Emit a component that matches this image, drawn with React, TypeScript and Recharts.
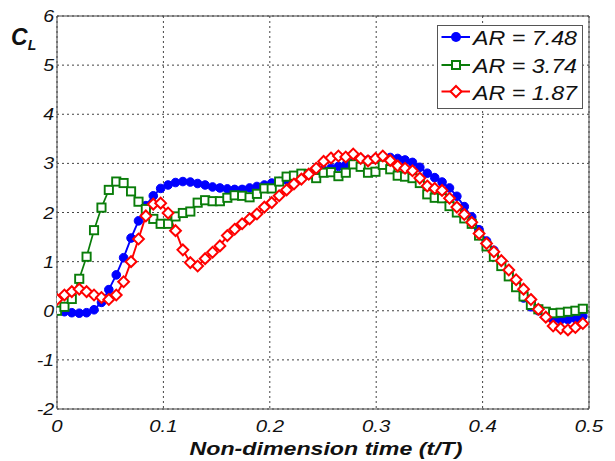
import React from 'react';
import { LineChart, Line, XAxis, YAxis, CartesianGrid, ReferenceLine, Legend } from 'recharts';

const time = [0, 0.007, 0.0139, 0.0209, 0.0278, 0.0348, 0.0418, 0.0487, 0.0557, 0.0626, 0.0696, 0.0766, 0.0835, 0.0905, 0.0974, 0.1044, 0.1114, 0.1183, 0.1253, 0.1322, 0.1392, 0.1462, 0.1531, 0.1601, 0.167, 0.174, 0.181, 0.1879, 0.1949, 0.2018, 0.2088, 0.2158, 0.2227, 0.2297, 0.2366, 0.2436, 0.2506, 0.2575, 0.2645, 0.2714, 0.2784, 0.2854, 0.2923, 0.2993, 0.3062, 0.3132, 0.3202, 0.3271, 0.3341, 0.341, 0.348, 0.355, 0.3619, 0.3689, 0.3758, 0.3828, 0.3898, 0.3967, 0.4037, 0.4106, 0.4176, 0.4246, 0.4315, 0.4385, 0.4454, 0.4524, 0.4594, 0.4663, 0.4733, 0.4802, 0.4872, 0.4942];

const ar748 = [0.0, -0.02, -0.04, -0.05, -0.04, 0.02, 0.17, 0.43, 0.73, 1.08, 1.48, 1.83, 2.14, 2.34, 2.49, 2.56, 2.61, 2.63, 2.62, 2.59, 2.56, 2.52, 2.5, 2.48, 2.47, 2.47, 2.5, 2.53, 2.56, 2.6, 2.63, 2.66, 2.71, 2.75, 2.79, 2.83, 2.86, 2.9, 2.94, 2.97, 3.01, 3.04, 3.07, 3.1, 3.11, 3.12, 3.1, 3.07, 3.02, 2.92, 2.8, 2.71, 2.62, 2.5, 2.33, 2.12, 1.91, 1.65, 1.42, 1.23, 1.01, 0.75, 0.5, 0.26, 0.08, 0.0, -0.1, -0.17, -0.19, -0.18, -0.16, -0.11];

const ar374 = [0.0, 0.08, 0.24, 0.65, 1.1, 1.64, 2.1, 2.46, 2.63, 2.6, 2.43, 2.22, 2.07, 1.87, 1.77, 1.77, 1.92, 1.99, 2.02, 2.2, 2.25, 2.23, 2.23, 2.3, 2.35, 2.34, 2.31, 2.38, 2.49, 2.49, 2.63, 2.73, 2.75, 2.79, 2.78, 2.7, 2.81, 2.82, 2.74, 2.81, 2.98, 2.93, 2.81, 2.83, 2.97, 2.88, 2.75, 2.73, 2.7, 2.6, 2.37, 2.3, 2.29, 2.13, 2.0, 1.88, 1.77, 1.53, 1.31, 1.1, 0.91, 0.7, 0.48, 0.29, 0.12, 0.03, -0.02, -0.05, -0.04, -0.02, 0.0, 0.04];

const ar187 = [0.23, 0.32, 0.39, 0.44, 0.39, 0.32, 0.27, 0.23, 0.32, 0.59, 1.0, 1.46, 1.93, 2.17, 2.19, 1.99, 1.63, 1.24, 0.98, 0.91, 1.06, 1.19, 1.32, 1.53, 1.66, 1.77, 1.87, 1.97, 2.11, 2.2, 2.34, 2.46, 2.58, 2.68, 2.78, 2.9, 3.04, 3.11, 3.15, 3.13, 3.19, 3.1, 3.05, 3.1, 3.15, 3.06, 2.95, 2.9, 2.85, 2.7, 2.54, 2.49, 2.45, 2.29, 2.11, 1.96, 1.8, 1.57, 1.37, 1.2, 1.02, 0.83, 0.63, 0.44, 0.23, 0.03, -0.13, -0.31, -0.36, -0.39, -0.34, -0.26];

const xTicks = [0, 0.1, 0.2, 0.3, 0.4, 0.5];
const yTicks = [-2, -1, 0, 1, 2, 3, 4, 5, 6];
const legendLabels = ['AR = 7.48', 'AR = 3.74', 'AR = 1.87'];

const BLUE = '#0000ff';
const GREEN = '#0a7d0a';
const RED = '#ff0000';
const FONT = '"Liberation Sans", Arial, sans-serif';

const data = time.map((t, i) => ({ t, b: ar748[i], g: ar374[i], r: ar187[i] }));

const BlueDot = (p: any) => (
  <circle key={`b${p.index}`} cx={p.cx} cy={p.cy} r={4.3} fill={BLUE} stroke={BLUE} strokeWidth={1} />
);
const GreenDot = (p: any) => (
  <rect key={`g${p.index}`} x={p.cx - 4.1} y={p.cy - 4.1} width={8.2} height={8.2} fill="#fff" stroke={GREEN} strokeWidth={1.9} />
);
const RedDot = (p: any) => (
  <path
    key={`r${p.index}`}
    d={`M${p.cx},${p.cy - 5.4} L${p.cx + 5.4},${p.cy} L${p.cx},${p.cy + 5.4} L${p.cx - 5.4},${p.cy} Z`}
    fill="#fff"
    stroke={RED}
    strokeWidth={2}
  />
);

const XTick = (p: any) => (
  <g transform={`translate(${p.x},${p.y + 23}) scale(1.2,1)`}>
    <text x={0} y={0} textAnchor="middle" fontFamily={FONT} fontStyle="italic" fontSize={17} fill="#111">
      {p.payload.value}
    </text>
  </g>
);
const YTick = (p: any) => (
  <g transform={`translate(${p.x - 3},${p.y + 6}) scale(1.15,1)`}>
    <text x={0} y={0} textAnchor="end" fontFamily={FONT} fontStyle="italic" fontSize={17} fill="#111">
      {p.payload.value}
    </text>
  </g>
);

const XTitle = (p: any) => {
  const vb = p.viewBox || { x: 57, width: 532 };
  const cx = vb.x + vb.width / 2 + 3;
  return (
    <text x={cx} y={455} textAnchor="middle" fontFamily={FONT} fontWeight="bold" fontStyle="italic" fontSize={19} textLength={273} lengthAdjust="spacingAndGlyphs" fill="#111">
      Non-dimension time (t/T)
    </text>
  );
};

const YTitle = () => (
  <text x={11} y={45} fontFamily={FONT} fontWeight="bold" fontStyle="italic" fontSize={23} fill="#111">
    C<tspan fontSize={14} dy={5}>L</tspan>
  </text>
);

const LegendBox = () => {
  const rows = [
    { c: BLUE, kind: 'circle', cy: 12 },
    { c: GREEN, kind: 'square', cy: 40 },
    { c: RED, kind: 'diamond', cy: 66.5 },
  ];
  return (
    <svg width={146} height={84} style={{ display: 'block' }}>
      <rect x={0.5} y={0.5} width={145} height={83} fill="#fff" stroke="#555" strokeWidth={1} />
      {rows.map((r, i) => (
        <g key={i}>
          <line x1={4.5} x2={33} y1={r.cy} y2={r.cy} stroke={r.c} strokeWidth={2} />
          {r.kind === 'circle' && <circle cx={19} cy={r.cy} r={5} fill={r.c} />}
          {r.kind === 'square' && <rect x={15} y={r.cy - 4} width={8} height={8} fill="#fff" stroke={r.c} strokeWidth={2} />}
          {r.kind === 'diamond' && (
            <path d={`M19,${r.cy - 5.5} L24.5,${r.cy} L19,${r.cy + 5.5} L13.5,${r.cy} Z`} fill="#fff" stroke={r.c} strokeWidth={2} />
          )}
          <text x={36} y={r.cy + 8} fontFamily={FONT} fontStyle="italic" fontSize={21} textLength={104} lengthAdjust="spacingAndGlyphs" fill="#111">
            {legendLabels[i]}
          </text>
        </g>
      ))}
    </svg>
  );
};

export default function App() {
  return (
    <div style={{ position: 'absolute', left: 0, top: 0, width: 615, height: 461, background: '#fff' }}>
      <LineChart width={615} height={461} data={data} margin={{ top: 16, right: 26, bottom: 0, left: 0 }}>
        <CartesianGrid stroke="#444" strokeDasharray="2 3" strokeWidth={1} />
        <XAxis
          dataKey="t"
          type="number"
          domain={[0, 0.5]}
          ticks={xTicks}
          height={52}
          tickLine={false}
          tickSize={0}
          tickMargin={0}
          axisLine={{ stroke: '#444', strokeWidth: 1 }}
          tick={<XTick />}
          interval={0}
          allowDataOverflow
          label={<XTitle />}
        />
        <YAxis
          type="number"
          domain={[-2, 6]}
          ticks={yTicks}
          width={57}
          tickLine={false}
          tickSize={0}
          tickMargin={0}
          axisLine={{ stroke: '#444', strokeWidth: 1 }}
          tick={<YTick />}
          interval={0}
          allowDataOverflow
          label={<YTitle />}
        />
        <ReferenceLine y={6} stroke="#444" strokeWidth={1} />
        <ReferenceLine x={0.5} stroke="#444" strokeWidth={1} />
        <Line type="linear" dataKey="b" stroke={BLUE} strokeWidth={1.9} dot={BlueDot} activeDot={false} isAnimationActive={false} />
        <Line type="linear" dataKey="g" stroke={GREEN} strokeWidth={1.7} dot={GreenDot} activeDot={false} isAnimationActive={false} />
        <Line type="linear" dataKey="r" stroke={RED} strokeWidth={1.9} dot={RedDot} activeDot={false} isAnimationActive={false} />
        <Legend
          layout="vertical"
          align="center"
          verticalAlign="middle"
          content={<LegendBox />}
          wrapperStyle={{ position: 'absolute', left: 437, top: 25, width: 146, height: 84, margin: 0, padding: 0 }}
        />
      </LineChart>
    </div>
  );
}
